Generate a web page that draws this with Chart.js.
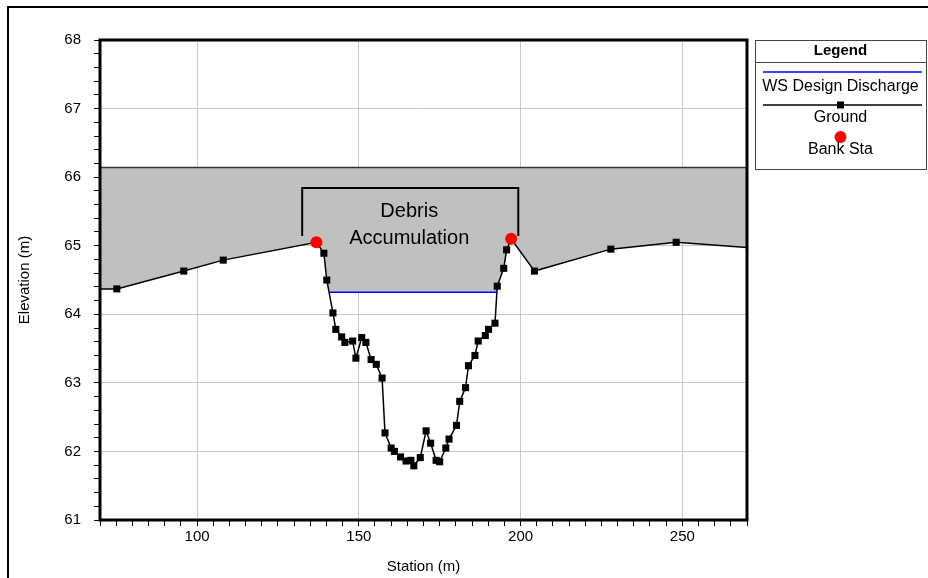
<!DOCTYPE html>
<html>
<head>
<meta charset="utf-8">
<script src="https://cdn.jsdelivr.net/npm/chart.js@4.4.0/dist/chart.umd.min.js"></script>
<style>
  body { margin: 0; background: #fff; }
  canvas { display: block; }
</style>
</head>
<body>
<canvas id="mychart" width="928" height="578"></canvas>
<script>
// ground profile
const stations = [65, 75.2, 95.9, 108.1, 136.9, 139.2, 140.1, 142.0, 142.9, 144.7,
  145.7, 148.1, 149.1, 150.9, 152.2, 153.8, 155.4, 157.2, 158.1, 160.0,
  161.0, 162.9, 164.6, 166.1, 167.0, 169.0, 170.8, 172.2, 173.9, 175.0,
  176.9, 177.9, 180.2, 181.2, 183.0, 183.9, 185.9, 186.9, 189.1, 190.1,
  192.1, 192.8, 194.8, 195.7, 197.1, 204.3, 227.9, 248.1, 285];
const elevations = [64.37, 64.37, 64.63, 64.79, 65.05, 64.89, 64.50, 64.02, 63.78, 63.67,
  63.59, 63.61, 63.36, 63.66, 63.59, 63.34, 63.27, 63.07, 62.27, 62.05,
  62.00, 61.92, 61.86, 61.87, 61.79, 61.91, 62.30, 62.12, 61.87, 61.85,
  62.05, 62.18, 62.38, 62.73, 62.93, 63.25, 63.40, 63.61, 63.69, 63.78,
  63.87, 64.41, 64.67, 64.94, 65.10, 64.63, 64.95, 65.05, 64.92];
const bankStations = [136.9, 197.1];
const wsElevation = 64.32;
const debrisTop = 66.14;
const debrisBracket = [132.5, 199.3];
const bracketTop = 65.84;
const bracketBottom = 65.14;
const debrisLabel = ['Debris', 'Accumulation'];
const debrisLabelStation = 165.6;
const debrisLabelElev = 65.31;
const legendLabels = ['WS Design Discharge', 'Ground', 'Bank Sta'];
const xTickLabels = [100, 150, 200, 250];
const yTickLabels = [61, 62, 63, 64, 65, 66, 67, 68];

const FONT = 'Liberation Sans, Arial, sans-serif';

function elevAt(st) {
  for (let i = 0; i < stations.length - 1; i++) {
    if (st >= stations[i] && st <= stations[i + 1]) {
      let t = (st - stations[i]) / (stations[i + 1] - stations[i]);
      return elevations[i] + t * (elevations[i + 1] - elevations[i]);
    }
  }
  return elevations[elevations.length - 1];
}

// where the water surface meets the ground inside the banks
function wsEdges() {
  let left = null, right = null;
  for (let i = 0; i < stations.length - 1; i++) {
    let a = elevations[i] - wsElevation, b = elevations[i + 1] - wsElevation;
    if (stations[i] < bankStations[0] || stations[i + 1] > bankStations[1]) continue;
    if (a > 0 && b <= 0 && left === null) {
      left = stations[i] + (a / (a - b)) * (stations[i + 1] - stations[i]);
    }
    if (a <= 0 && b > 0) {
      right = stations[i] + (a / (a - b)) * (stations[i + 1] - stations[i]);
    }
  }
  return [left, right];
}

let edges = wsEdges();

let groundPts = stations.map((s, i) => ({ x: s, y: elevations[i] }));
let wsPts = [{ x: edges[0], y: wsElevation }, { x: edges[1], y: wsElevation }];
let bankPts = bankStations.map(s => ({ x: s, y: elevAt(s) }));

// lower edge of the grey debris block: ground outside, water surface inside
let lowerPts = [];
for (let p of groundPts) {
  if (p.x <= edges[0]) lowerPts.push(p);
}
lowerPts.push(wsPts[0], wsPts[1]);
for (let p of groundPts) {
  if (p.x >= edges[1]) lowerPts.push(p);
}
let upperPts = lowerPts.map(p => ({ x: p.x, y: debrisTop }));

function isMajor(v, step) {
  let r = v / step;
  return Math.abs(r - Math.round(r)) < 1e-6;
}

const extras = {
  id: 'extras',
  afterDatasetsDraw(chart) {
    let ctx = chart.ctx;
    let xs = chart.scales.x, ys = chart.scales.y;
    let area = chart.chartArea;
    ctx.save();

    // debris bracket and label
    ctx.strokeStyle = '#000';
    ctx.lineWidth = 2;
    ctx.beginPath();
    ctx.moveTo(xs.getPixelForValue(debrisBracket[0]), ys.getPixelForValue(bracketBottom));
    ctx.lineTo(xs.getPixelForValue(debrisBracket[0]), ys.getPixelForValue(bracketTop));
    ctx.lineTo(xs.getPixelForValue(debrisBracket[1]), ys.getPixelForValue(bracketTop));
    ctx.lineTo(xs.getPixelForValue(debrisBracket[1]), ys.getPixelForValue(bracketBottom));
    ctx.stroke();

    ctx.fillStyle = '#000';
    ctx.font = '20px ' + FONT;
    ctx.textAlign = 'center';
    ctx.textBaseline = 'middle';
    let lx = xs.getPixelForValue(debrisLabelStation);
    let ly = ys.getPixelForValue(debrisLabelElev);
    ctx.fillText(debrisLabel[0], lx, ly - 13);
    ctx.fillText(debrisLabel[1], lx, ly + 14);

    // plot frame
    ctx.lineWidth = 3;
    ctx.strokeRect(area.left, area.top, area.right - area.left, area.bottom - area.top);
    ctx.restore();
  },
  afterDraw(chart) {
    let ctx = chart.ctx;
    let area = chart.chartArea;
    let ds = chart.data.datasets;
    ctx.save();

    // outer frame of the figure
    ctx.strokeStyle = '#000';
    ctx.lineWidth = 2;
    ctx.beginPath();
    ctx.moveTo(8, 578);
    ctx.lineTo(8, 7);
    ctx.lineTo(928, 7);
    ctx.stroke();

    // legend box
    let bx = area.right + 8, by = area.top, bw = 926 - bx, bh = 129;
    let cx = bx + bw / 2;
    ctx.strokeStyle = '#444';
    ctx.lineWidth = 1;
    ctx.strokeRect(bx + 0.5, by + 0.5, bw, bh);
    ctx.beginPath();
    ctx.moveTo(bx, by + 22.5);
    ctx.lineTo(bx + bw, by + 22.5);
    ctx.stroke();

    ctx.fillStyle = '#000';
    ctx.textAlign = 'center';
    ctx.textBaseline = 'middle';
    ctx.font = 'bold 15px ' + FONT;
    ctx.fillText('Legend', cx, by + 11);

    ctx.font = '16px ' + FONT;
    ctx.strokeStyle = ds[0].borderColor;
    ctx.lineWidth = 1.5;
    ctx.beginPath();
    ctx.moveTo(bx + 8, by + 32);
    ctx.lineTo(bx + bw - 4, by + 32);
    ctx.stroke();
    ctx.fillText(legendLabels[0], cx, by + 47);

    ctx.strokeStyle = ds[1].borderColor;
    ctx.beginPath();
    ctx.moveTo(bx + 8, by + 65);
    ctx.lineTo(bx + bw - 4, by + 65);
    ctx.stroke();
    ctx.fillStyle = '#000';
    ctx.fillRect(cx - 3.5, by + 61.5, 7, 7);
    ctx.fillText(legendLabels[1], cx, by + 78);

    ctx.fillStyle = ds[2].backgroundColor;
    ctx.beginPath();
    ctx.arc(cx, by + 97, 6, 0, Math.PI * 2);
    ctx.fill();
    ctx.fillStyle = '#000';
    ctx.fillText(legendLabels[2], cx, by + 110);
    ctx.restore();
  }
};

let config = {
  type: 'scatter',
  data: {
    datasets: [{
      label: legendLabels[0],
      data: wsPts,
      showLine: true,
      borderColor: '#0000ff',
      borderWidth: 1.5,
      pointRadius: 0,
    }, {
      label: legendLabels[1],
      data: groundPts,
      showLine: true,
      borderColor: '#000',
      borderWidth: 1.5,
      pointStyle: 'rect',
      pointRadius: 5,
      pointBackgroundColor: '#000',
      pointBorderWidth: 0,
    }, {
      label: legendLabels[2],
      data: bankPts,
      order: -1,
      showLine: false,
      backgroundColor: '#ff0000',
      pointBackgroundColor: '#ff0000',
      pointBorderColor: '#ff0000',
      pointBorderWidth: 0,
      pointRadius: 6,
    }, {
      label: 'debris top',
      data: upperPts,
      showLine: true,
      borderColor: '#333',
      borderWidth: 1.5,
      pointRadius: 0,
      fill: '+1',
      backgroundColor: 'rgb(192,192,192)',
    }, {
      label: 'debris bottom',
      data: lowerPts,
      showLine: true,
      borderWidth: 0,
      borderColor: 'rgba(0,0,0,0)',
      pointRadius: 0,
    }],
  },
  options: {
    responsive: false,
    animation: false,
    events: [],
    layout: { padding: { top: 40, right: 181, bottom: 0, left: 0 } },
    plugins: {
      legend: { display: false },
      tooltip: { enabled: false },
    },
    scales: {
      x: {
        type: 'linear',
        min: 70,
        max: 270,
        afterFit(scale) { scale.height = 58; },
        border: { display: false },
        grid: {
          color: c => (c.tick && xTickLabels.includes(Math.round(c.tick.value)) && isMajor(c.tick.value, 50)) ? '#c8c8c8' : 'rgba(0,0,0,0)',
          tickColor: '#000',
          tickLength: 6,
          lineWidth: 1,
        },
        ticks: {
          stepSize: 5,
          autoSkip: false,
          maxRotation: 0,
          padding: 2,
          color: '#000',
          font: { family: FONT, size: 15 },
          callback: v => xTickLabels.includes(v) ? String(v) : '',
        },
        title: {
          display: true,
          text: 'Station (m)',
          color: '#000',
          font: { family: FONT, size: 15 },
          padding: { top: 0, bottom: 2 },
        },
      },
      y: {
        type: 'linear',
        min: 61,
        max: 68,
        afterFit(scale) { scale.width = 100; },
        border: { display: false },
        grid: {
          color: c => (c.tick && isMajor(c.tick.value, 1)) ? '#c8c8c8' : 'rgba(0,0,0,0)',
          tickColor: '#000',
          tickLength: 6,
          lineWidth: 1,
        },
        ticks: {
          stepSize: 0.2,
          autoSkip: false,
          padding: 13,
          color: '#000',
          font: { family: FONT, size: 15 },
          callback: v => {
            let r = Math.round(v);
            return (isMajor(v, 1) && yTickLabels.includes(r)) ? String(r) : '';
          },
        },
        title: {
          display: true,
          text: 'Elevation (m)',
          color: '#000',
          font: { family: FONT, size: 15 },
          padding: { top: 16, bottom: 0 },
        },
      },
    },
  },
  plugins: [extras],
};

let myChart = new Chart(document.getElementById('mychart'), config);
</script>
</body>
</html>
